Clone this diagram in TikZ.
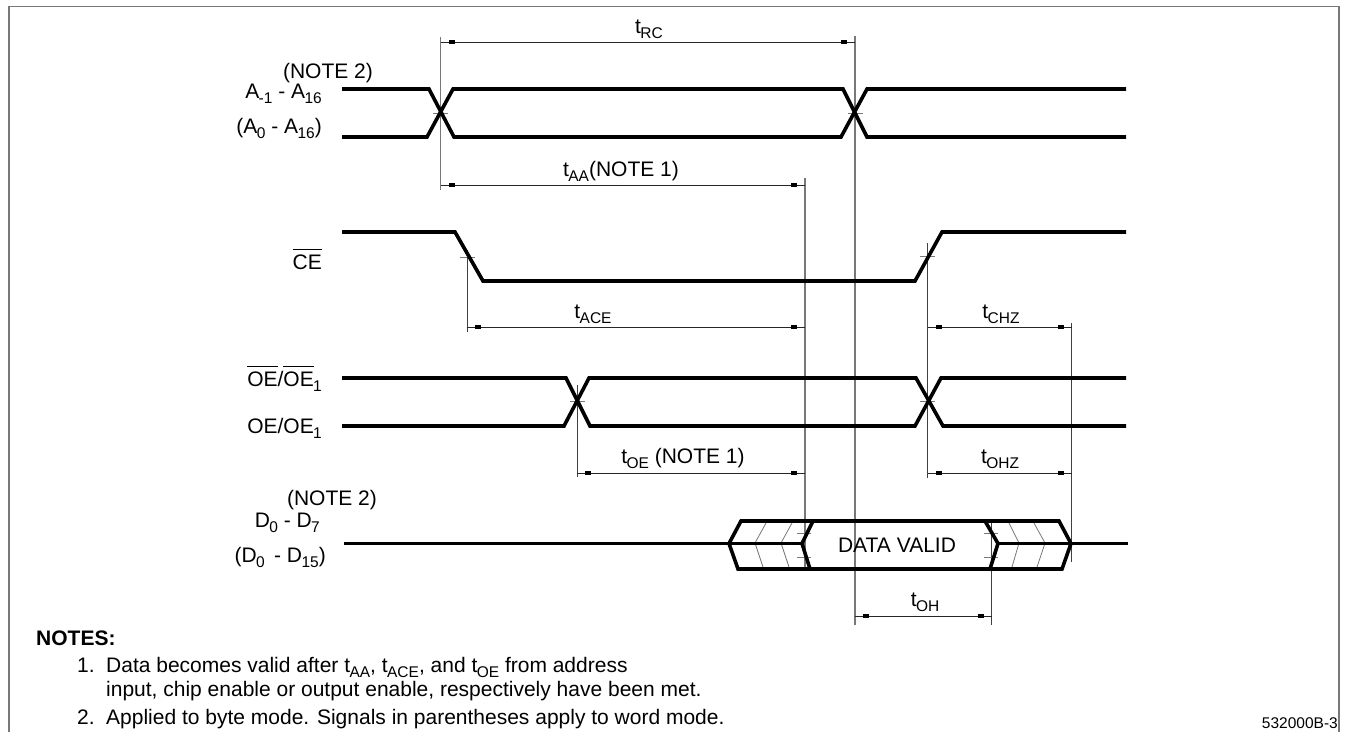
\documentclass[tikz,border=0pt]{standalone}
\usepackage{fontspec}
\setmainfont{Liberation Sans}
\usetikzlibrary{positioning,decorations.markings}
\definecolor{softgrey}{RGB}{120,120,120}
\newcommand{\lowsub}[1]{\kern-0.6pt\raisebox{-5pt}{\fontsize{15.5}{15.5}\selectfont #1}}
\newcommand{\barsig}[1]{\leavevmode\vbox{\hrule height 0.9pt \kern 4.5pt \hbox{#1}}}
\tikzset{
    frameline/.style={
        draw=softgrey,
        line width=1.4pt
    },
    signal/.style={
        draw=black,
        line width=3.6pt
    },
    extline/.style={
        draw=black!75,
        line width=0.9pt
    },
    greyline/.style={
        draw=softgrey,
        line width=1.4pt
    },
    crosstick/.style={
        draw=softgrey,
        line width=0.9pt
    },
    chevron/.style={
        draw=softgrey,
        line width=0.8pt
    },
    dimline/.style={
        draw=black!85,
        line width=0.8pt,
        postaction={decorate},
        decoration={
            markings,
            mark=at position 11pt with {\fill[black] (-3pt,-2.2pt) rectangle (3pt,2.2pt);},
            mark=at position -11pt with {\fill[black] (-3pt,-2.2pt) rectangle (3pt,2.2pt);}
        }
    },
    txt/.style={
        font=\fontsize{21}{25}\selectfont,
        inner sep=0pt,
        text=black,
        anchor=base
    },
    sigtxt/.style={
        txt,
        anchor=base east
    },
    notetxt/.style={
        txt,
        anchor=base west
    }
}

\begin{document}
\begin{tikzpicture}[x=1pt,y=-1pt]

\useasboundingbox (0,0) rectangle (1345,732);

% FRAME
\coordinate (framebl) at (9,732);
\coordinate (frametl) at (9,6.5);
\coordinate (frametr) at (1339,6.5);
\coordinate (framebr) at (1339,732);
\draw[frameline] (framebl) -- (frametl) -- (frametr) -- (framebr);

% EXTENSION LINES
\coordinate (addrtop) at (440.5,37);
\coordinate (addrbot) at (440.5,190);
\coordinate (rctop) at (855,36);
\coordinate (rcbot) at (855,625);
\coordinate (validtop) at (805,178);
\coordinate (validbot) at (805,568);
\coordinate (cetop) at (467,250);
\coordinate (cebot) at (467,332);
\coordinate (oetop) at (577,385);
\coordinate (oebot) at (577,477);
\coordinate (hztop) at (927.5,243);
\coordinate (hzbot) at (927.5,478);
\coordinate (floattop) at (1071.7,323);
\coordinate (floatbot) at (1071.7,562);
\coordinate (holdtop) at (991.5,523);
\coordinate (holdbot) at (991.5,625);

\draw[greyline] (addrtop) -- (addrbot);
\draw[greyline] (rctop) -- (rcbot);
\draw[greyline] (validtop) -- (validbot);
\draw[extline] (cetop) -- (cebot);
\draw[extline] (oetop) -- (oebot);
\draw[extline] (hztop) -- (hzbot);
\draw[extline] (floattop) -- (floatbot);
\draw[extline] (holdtop) -- (holdbot);

% CROSSING TICKS
\draw[crosstick] (433,113) -- (448,113);
\draw[crosstick] (848,113) -- (863,113);
\draw[crosstick] (460,257) -- (475,257);
\draw[crosstick] (920,256) -- (935,256);
\draw[crosstick] (570,401) -- (585,401);
\draw[crosstick] (920,401) -- (935,401);
\draw[crosstick] (797,533) -- (811,533);
\draw[crosstick] (797,557) -- (811,557);
\draw[crosstick] (984,533) -- (998,533);
\draw[crosstick] (984,557) -- (998,557);

% DIMENSIONS
\coordinate (rcl) at (440.5,42);
\coordinate (rcr) at (855,42);
\coordinate (aal) at (440.5,185);
\coordinate (aar) at (805,185);
\coordinate (acel) at (467,327);
\coordinate (acer) at (805,327);
\coordinate (chzl) at (927.5,327);
\coordinate (chzr) at (1071.7,327);
\coordinate (oel) at (577,473);
\coordinate (oer) at (805,473);
\coordinate (ohzl) at (927.5,473);
\coordinate (ohzr) at (1071.7,473);
\coordinate (ohl) at (855,616);
\coordinate (ohr) at (991.5,616);

\draw[dimline] (rcl) -- (rcr);
\draw[dimline] (aal) -- (aar);
\draw[dimline] (acel) -- (acer);
\draw[dimline] (chzl) -- (chzr);
\draw[dimline] (oel) -- (oer);
\draw[dimline] (ohzl) -- (ohzr);
\draw[dimline] (ohl) -- (ohr);

% ADDRESS
\draw[signal] (342,89) -- (429,89) -- (454,137) -- (841,137) -- (867,89) -- (1126,89);
\draw[signal] (342,137) -- (427,137) -- (453,89) -- (843,89) -- (867,137) -- (1126,137);

% CHIP ENABLE
\draw[signal] (342,232) -- (455,232) -- (483,281) -- (915,281) -- (942,232) -- (1126,232);

% OUTPUT ENABLE
\draw[signal] (342,378) -- (566,378) -- (590,426) -- (915,426) -- (941,378) -- (1126,378);
\draw[signal] (342,426) -- (564,426) -- (589,378) -- (916,378) -- (943,426) -- (1126,426);

% DATA
\draw[chevron] (766,523) -- (755,543) -- (763,567);
\draw[chevron] (792,523) -- (781,543) -- (789,567);
\draw[chevron] (1009,523) -- (1019,543) -- (1012,567);
\draw[chevron] (1034,523) -- (1045,543) -- (1037,567);
\draw[signal] (344,543.5) -- (802,543.5);
\draw[signal] (998,543.5) -- (1128,543.5);
\draw[signal] (741,521) -- (729,543.5) -- (738,569) -- (1062,569) -- (1071,543.5) -- (1059,521) -- cycle;
\draw[signal] (813,521) -- (802,543.5) -- (810,569);
\draw[signal] (985,521) -- (998,543.5) -- (990,569);

% SIGNAL NAMES
\node[txt] (addrnote) at (328,78) {(NOTE 2)};
\node[sigtxt] (addrbyte) at (322,98) {A\lowsub{-1} - A\lowsub{16}};
\node[sigtxt] (addrword) at (322,133) {(A\lowsub{0} - A\lowsub{16})};
\node[sigtxt] (cename) at (322,269) {\barsig{CE}};
\node[sigtxt] (oebar) at (322,386) {\barsig{OE}/\barsig{OE}\lowsub{1}};
\node[sigtxt] (oename) at (322,433) {OE/OE\lowsub{1}};
\node[txt] (datanote) at (332,505) {(NOTE 2)};
\node[sigtxt] (databyte) at (320,527) {D\lowsub{0} - D\lowsub{7}};
\node[sigtxt] (dataword) at (326,562) {(D\lowsub{0}\, - D\lowsub{15})};
\node[txt] (datavalid) at (897,552) {DATA VALID};

% TIMING NAMES
\node[txt] (trc) at (649,33) {t\lowsub{RC}};
\node[txt] (taa) at (621,176) {t\lowsub{AA}(NOTE 1)};
\node[txt] (tace) at (593,318) {t\lowsub{ACE}};
\node[txt] (tchz) at (1001,318) {t\lowsub{CHZ}};
\node[txt] (toe) at (683,463) {t\lowsub{OE} (NOTE 1)};
\node[txt] (tohz) at (1000,463) {t\lowsub{OHZ}};
\node[txt] (toh) at (925,606) {t\lowsub{OH}};

% NOTES
\node[notetxt,font=\fontsize{21}{25}\selectfont\bfseries] (notes) at (36,645) {NOTES:};
\node[notetxt] (noteone) at (77,672) {1.};
\node[notetxt] (noteonea) at (106,672) {Data becomes valid after t\lowsub{AA}, t\lowsub{ACE}, and t\lowsub{OE} from address};
\node[notetxt] (noteoneb) at (106,696) {input, chip enable or output enable, respectively have been met.};
\node[notetxt] (notetwo) at (77,724) {2.};
\node[notetxt] (notetwoa) at (106,724) {Applied to byte mode. Signals in parentheses apply to word mode.};
\node[txt,font=\fontsize{15.5}{18}\selectfont,anchor=base east] (docnum) at (1338,728.5) {532000B-3};

\end{tikzpicture}
\end{document}
